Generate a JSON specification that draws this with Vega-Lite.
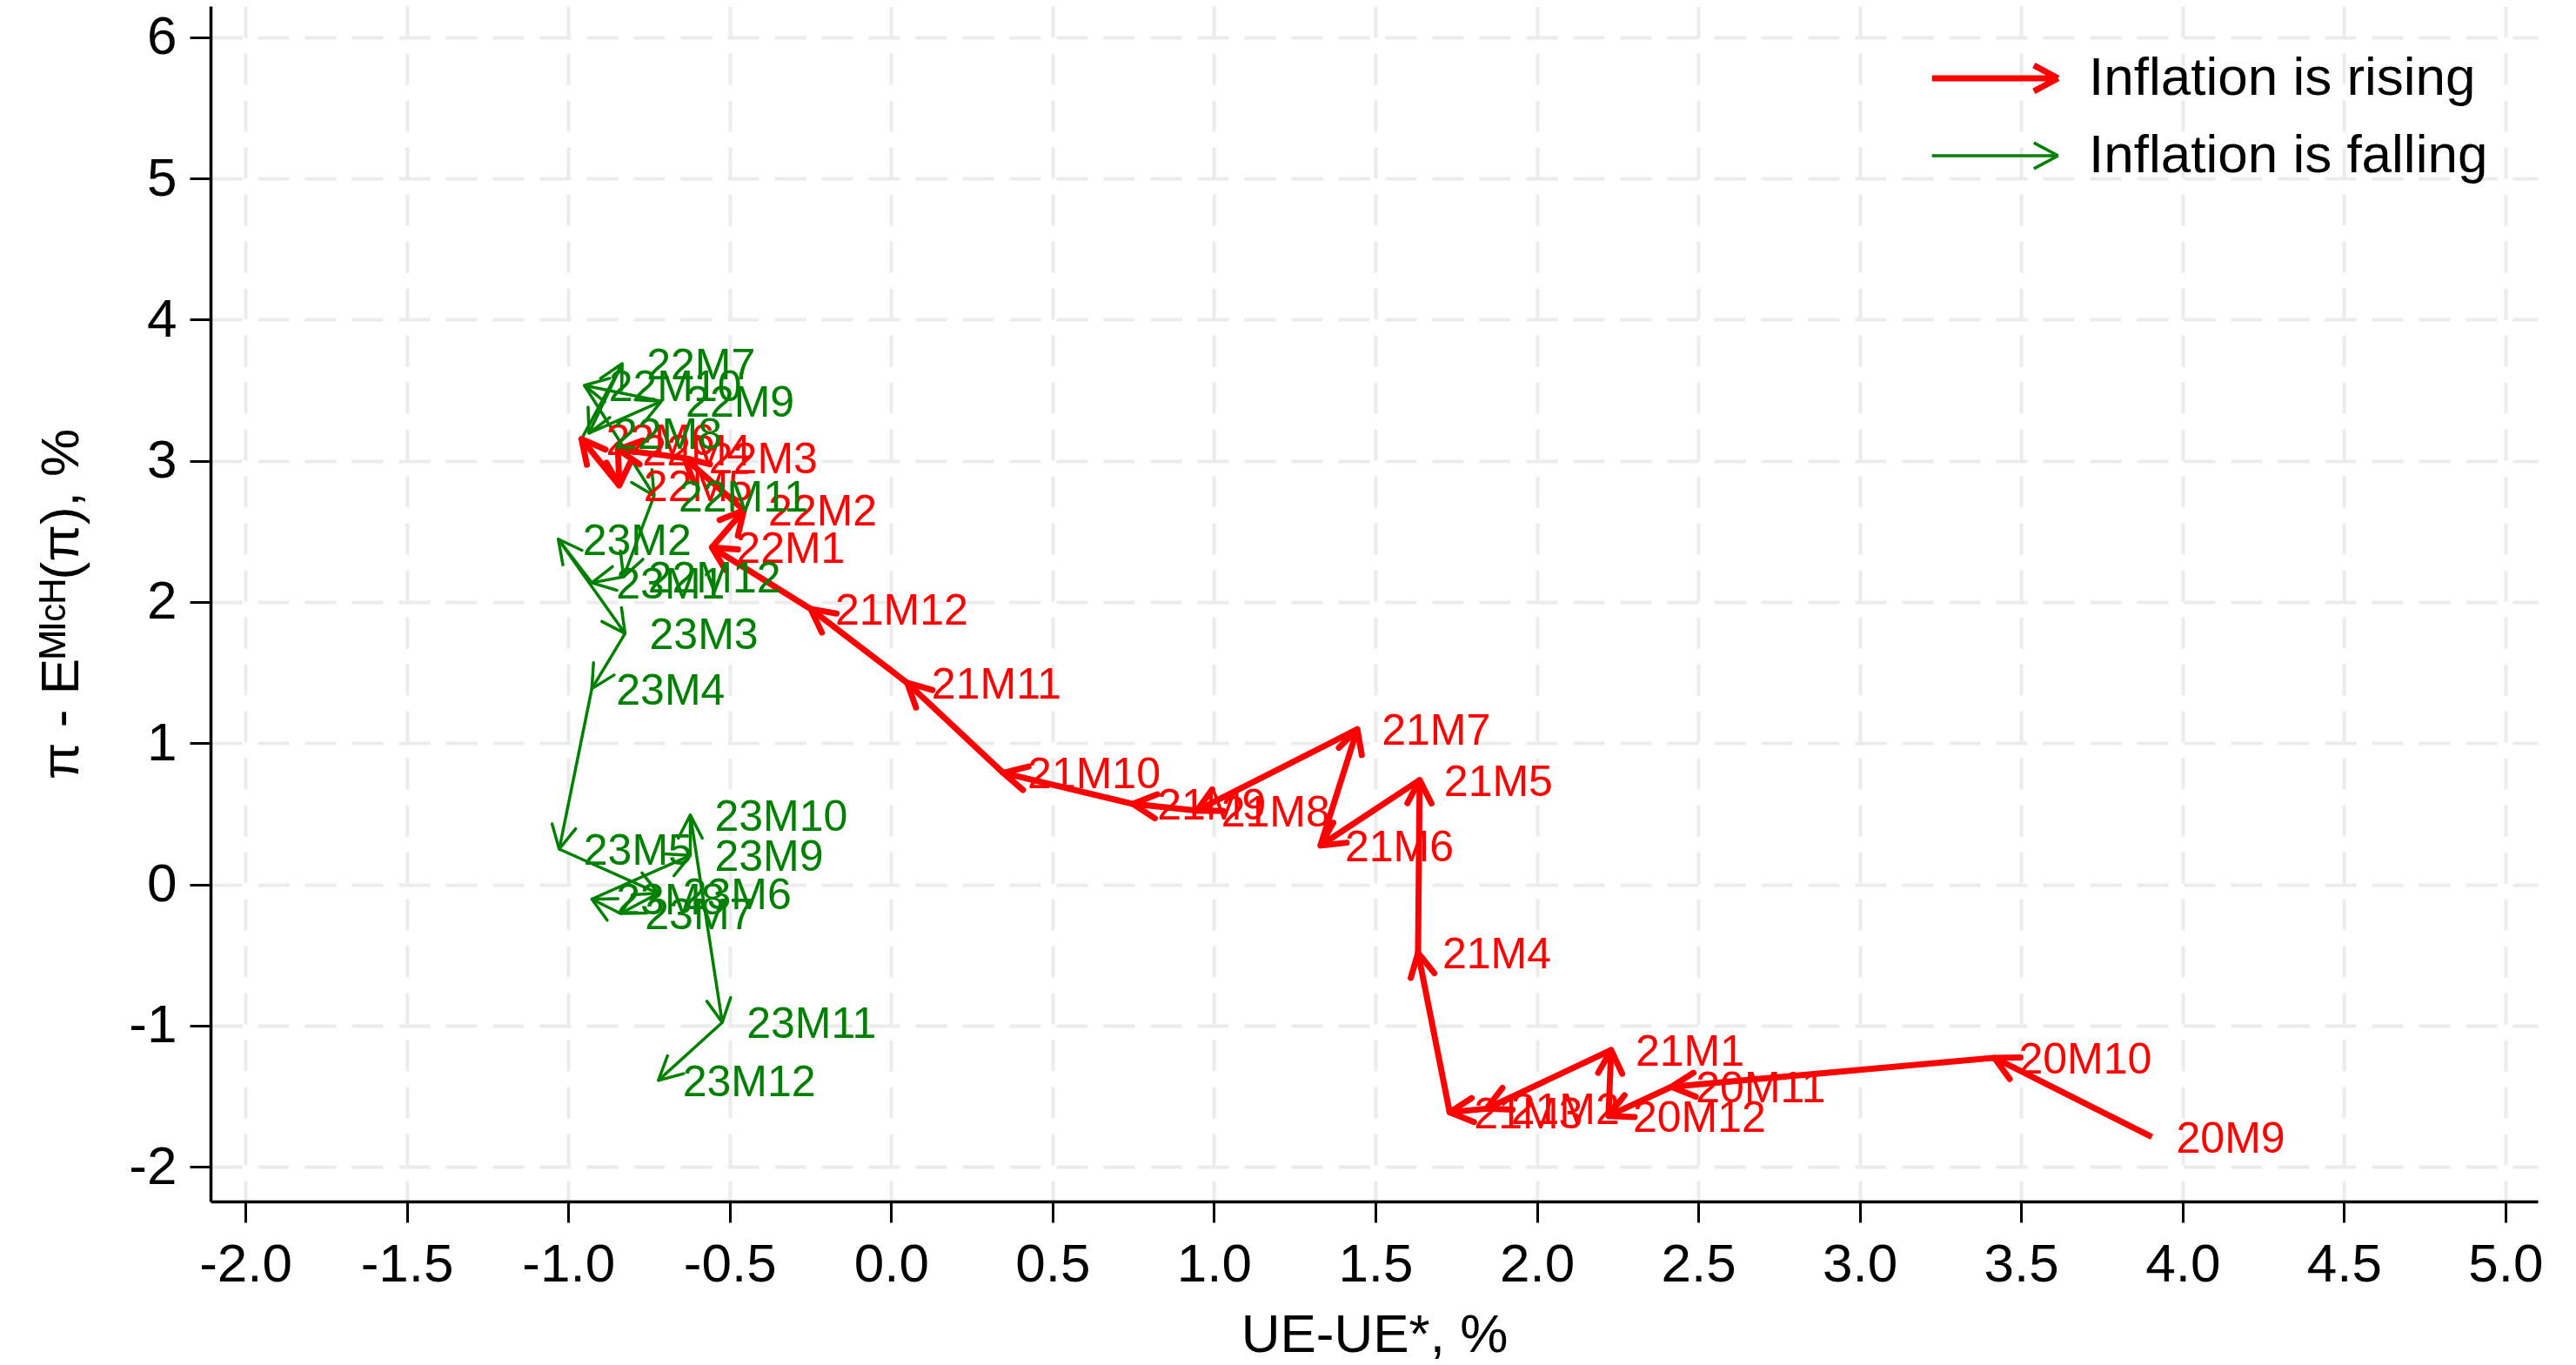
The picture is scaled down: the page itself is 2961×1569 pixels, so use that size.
{
  "$schema": "https://vega.github.io/schema/vega-lite/v6.json",
  "width": 2675,
  "height": 1374,
  "autosize": {"type": "none"},
  "padding": {"left": 242, "top": 7, "right": 44, "bottom": 188},
  "background": "white",
  "config": {
    "view": {"stroke": null},
    "font": "Liberation Sans",
    "axis": {
      "domainColor": "black", "domainWidth": 3.5,
      "tickColor": "black", "tickWidth": 3, "tickSize": 24,
      "labelFont": "Liberation Sans", "labelFontSize": 62, "labelColor": "black",
      "titleFont": "Liberation Sans", "titleFontSize": 62, "titleFontWeight": "normal", "titleColor": "black",
      "gridColor": "#ececec", "gridWidth": 4, "gridDash": [36, 18],
      "labelOverlap": false, "labelFlush": false
    },
    "legend": {
      "labelFont": "Liberation Sans", "labelFontSize": 62, "labelColor": "black", "labelLimit": 2000
    }
  },
  "data": {
    "values": [
      {"month": "2020-09", "label": "20M9", "ue": 3.905, "gap": -1.789, "trend": "Inflation is rising"},
      {"month": "2020-10", "label": "20M10", "ue": 3.417, "gap": -1.228, "trend": "Inflation is rising"},
      {"month": "2020-11", "label": "20M11", "ue": 2.417, "gap": -1.433, "trend": "Inflation is rising"},
      {"month": "2020-12", "label": "20M12", "ue": 2.222, "gap": -1.639, "trend": "Inflation is rising"},
      {"month": "2021-01", "label": "21M1", "ue": 2.230, "gap": -1.173, "trend": "Inflation is rising"},
      {"month": "2021-02", "label": "21M2", "ue": 1.844, "gap": -1.588, "trend": "Inflation is rising"},
      {"month": "2021-03", "label": "21M3", "ue": 1.730, "gap": -1.614, "trend": "Inflation is rising"},
      {"month": "2021-04", "label": "21M4", "ue": 1.632, "gap": -0.484, "trend": "Inflation is rising"},
      {"month": "2021-05", "label": "21M5", "ue": 1.637, "gap": 0.739, "trend": "Inflation is rising"},
      {"month": "2021-06", "label": "21M6", "ue": 1.330, "gap": 0.276, "trend": "Inflation is rising"},
      {"month": "2021-07", "label": "21M7", "ue": 1.444, "gap": 1.099, "trend": "Inflation is rising"},
      {"month": "2021-08", "label": "21M8", "ue": 0.947, "gap": 0.523, "trend": "Inflation is rising"},
      {"month": "2021-09", "label": "21M9", "ue": 0.749, "gap": 0.570, "trend": "Inflation is rising"},
      {"month": "2021-10", "label": "21M10", "ue": 0.347, "gap": 0.790, "trend": "Inflation is rising"},
      {"month": "2021-11", "label": "21M11", "ue": 0.050, "gap": 1.427, "trend": "Inflation is rising"},
      {"month": "2021-12", "label": "21M12", "ue": -0.249, "gap": 1.951, "trend": "Inflation is rising"},
      {"month": "2022-01", "label": "22M1", "ue": -0.555, "gap": 2.387, "trend": "Inflation is rising"},
      {"month": "2022-02", "label": "22M2", "ue": -0.456, "gap": 2.650, "trend": "Inflation is rising"},
      {"month": "2022-03", "label": "22M3", "ue": -0.640, "gap": 3.020, "trend": "Inflation is rising"},
      {"month": "2022-04", "label": "22M4", "ue": -0.846, "gap": 3.080, "trend": "Inflation is rising"},
      {"month": "2022-05", "label": "22M5", "ue": -0.842, "gap": 2.825, "trend": "Inflation is rising"},
      {"month": "2022-06", "label": "22M6", "ue": -0.959, "gap": 3.154, "trend": "Inflation is rising"},
      {"month": "2022-07", "label": "22M7", "ue": -0.833, "gap": 3.688, "trend": "Inflation is falling"},
      {"month": "2022-08", "label": "22M8", "ue": -0.936, "gap": 3.195, "trend": "Inflation is falling"},
      {"month": "2022-09", "label": "22M9", "ue": -0.712, "gap": 3.421, "trend": "Inflation is falling"},
      {"month": "2022-10", "label": "22M10", "ue": -0.950, "gap": 3.534, "trend": "Inflation is falling"},
      {"month": "2022-11", "label": "22M11", "ue": -0.734, "gap": 2.753, "trend": "Inflation is falling"},
      {"month": "2022-12", "label": "22M12", "ue": -0.829, "gap": 2.178, "trend": "Inflation is falling"},
      {"month": "2023-01", "label": "23M1", "ue": -0.927, "gap": 2.136, "trend": "Inflation is falling"},
      {"month": "2023-02", "label": "23M2", "ue": -1.031, "gap": 2.445, "trend": "Inflation is falling"},
      {"month": "2023-03", "label": "23M3", "ue": -0.824, "gap": 1.777, "trend": "Inflation is falling"},
      {"month": "2023-04", "label": "23M4", "ue": -0.927, "gap": 1.386, "trend": "Inflation is falling"},
      {"month": "2023-05", "label": "23M5", "ue": -1.028, "gap": 0.250, "trend": "Inflation is falling"},
      {"month": "2023-06", "label": "23M6", "ue": -0.721, "gap": -0.063, "trend": "Inflation is falling"},
      {"month": "2023-07", "label": "23M7", "ue": -0.838, "gap": -0.206, "trend": "Inflation is falling"},
      {"month": "2023-08", "label": "23M8", "ue": -0.927, "gap": -0.104, "trend": "Inflation is falling"},
      {"month": "2023-09", "label": "23M9", "ue": -0.622, "gap": 0.205, "trend": "Inflation is falling"},
      {"month": "2023-10", "label": "23M10", "ue": -0.622, "gap": 0.492, "trend": "Inflation is falling"},
      {"month": "2023-11", "label": "23M11", "ue": -0.523, "gap": -0.977, "trend": "Inflation is falling"},
      {"month": "2023-12", "label": "23M12", "ue": -0.721, "gap": -1.388, "trend": "Inflation is falling"}
    ]
  },
  "transform": [
    {"window": [{"op": "lag", "field": "ue", "as": "ue0"}, {"op": "lag", "field": "gap", "as": "gap0"}], "sort": [{"field": "month", "order": "ascending"}]},
    {"calculate": "datum.ue0 == null ? 0 : atan2((datum.ue - datum.ue0) * 371.1, (datum.gap - datum.gap0) * 162.3) * 180 / PI", "as": "ang"}
  ],
  "encoding": {
    "x": {
      "field": "ue", "type": "quantitative",
      "scale": {"domain": [-2.108, 5.1], "nice": false, "zero": false},
      "axis": {
        "title": "UE-UE*, %",
        "values": [-2, -1.5, -1, -0.5, 0, 0.5, 1, 1.5, 2, 2.5, 3, 3.5, 4, 4.5, 5],
        "labelExpr": "replace(format(datum.value, '.1f'), '\u2212', '-')",
        "labelPadding": 18, "titlePadding": 20
      }
    },
    "y": {
      "field": "gap", "type": "quantitative",
      "scale": {"domain": [-2.245, 6.22], "nice": false, "zero": false},
      "axis": {
        "title": "π - Eᴹᴵᶜᴴ(π), %",
        "values": [-2, -1, 0, 1, 2, 3, 4, 5, 6],
        "labelExpr": "replace(format(datum.value, 'd'), '\u2212', '-')",
        "labelPadding": 15, "titlePadding": 45
      }
    }
  },
  "layer": [
    {
      "transform": [{"filter": "datum.ue0 != null"}],
      "mark": {"type": "rule", "strokeCap": "butt"},
      "encoding": {
        "x2": {"field": "ue0"},
        "y2": {"field": "gap0"},
        "color": {
          "field": "trend", "type": "nominal",
          "scale": {"domain": ["Inflation is rising", "Inflation is falling"], "range": ["#ff0000", "#008000"]},
          "legend": {
            "title": null, "orient": "none", "legendX": 1975, "legendY": 43,
            "symbolType": "M-1,0L3,0M3,0L2.23,-0.41M3,0L2.23,0.41",
            "symbolSize": 5256, "symbolFillColor": "transparent",
            "labelOffset": 104, "rowPadding": 20, "padding": 0, "labelLimit": 2000
          }
        },
        "strokeWidth": {
          "field": "trend", "type": "nominal",
          "scale": {"domain": ["Inflation is rising", "Inflation is falling"], "range": [7, 3.5]},
          "legend": {
            "title": null, "orient": "none", "legendX": 1975, "legendY": 43,
            "symbolType": "M-1,0L3,0M3,0L2.23,-0.41M3,0L2.23,0.41",
            "symbolSize": 5256, "symbolFillColor": "transparent",
            "labelOffset": 104, "rowPadding": 20, "padding": 0, "labelLimit": 2000
          }
        }
      }
    },
    {
      "transform": [{"filter": "datum.ue0 != null"}],
      "mark": {"type": "point", "shape": "M0,0L-0.46,0.89M0,0L0.46,0.89", "filled": false, "size": 3600, "strokeCap": "round", "strokeJoin": "miter", "opacity": 1},
      "encoding": {
        "angle": {"field": "ang", "type": "quantitative", "scale": null},
        "color": {"field": "trend", "type": "nominal"},
        "strokeWidth": {"field": "trend", "type": "nominal"}
      }
    },
    {
      "mark": {"type": "text", "align": "left", "baseline": "middle", "dx": 28, "dy": 3, "fontSize": 50, "font": "Liberation Sans"},
      "encoding": {
        "text": {"field": "label"},
        "color": {"field": "trend", "type": "nominal"}
      }
    }
  ]
}
